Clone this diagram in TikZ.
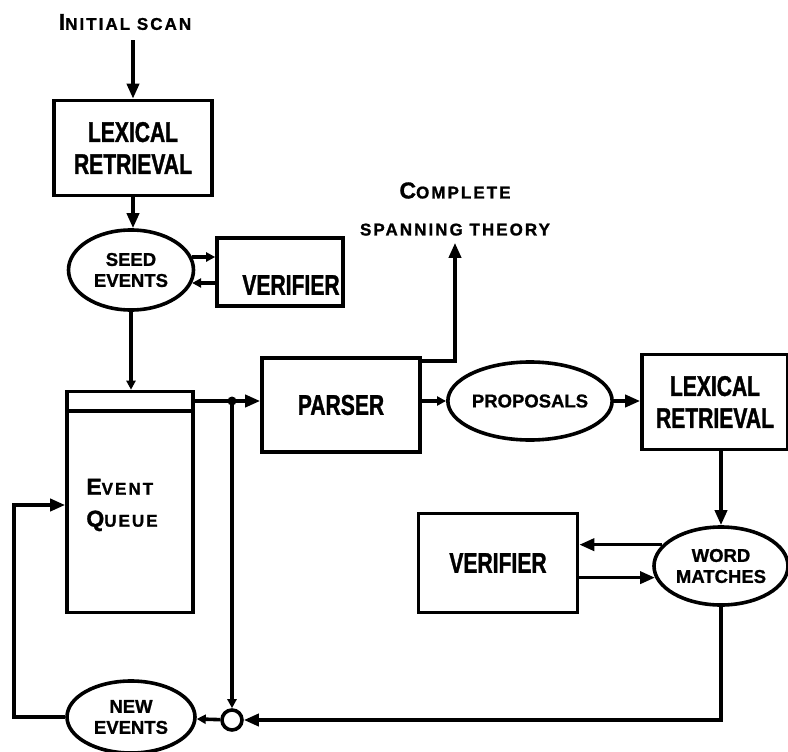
\documentclass[tikz,border=0pt]{standalone}
\usepackage{fontspec}
\setmainfont{Liberation Sans}
\newfontfamily\narrowfont[FakeStretch=0.74, BoldFeatures={FakeBold=1.2}]{Liberation Sans}
\newfontfamily\ovalfont[BoldFeatures={FakeBold=1}]{Liberation Sans}
\newfontfamily\widefont[LetterSpace=12, BoldFeatures={FakeBold=1.2}]{Liberation Sans}
\usepackage{tikz}
\usetikzlibrary{positioning,calc,arrows.meta,shapes.geometric}

\newcommand\capfirst[2]{{\fontsize{23}{23}\selectfont #1}{\fontsize{17}{18}\selectfont #2}}

\begin{document}
\begin{tikzpicture}[
    x=1pt, y=-1pt,
    box/.style={draw, line width=3.6pt, inner sep=0pt, align=center, font=\narrowfont\bfseries\fontsize{28.5}{32}\selectfont},
    oval/.style={draw, ellipse, line width=3.6pt, inner sep=0pt, align=center, font=\ovalfont\bfseries\fontsize{18.5}{21}\selectfont},
    lab/.style={inner sep=0pt, align=center, font=\widefont\bfseries\fontsize{17}{32}\selectfont},
    arrow/.style={line width=3.6pt, -{Triangle[length=15pt,width=12pt]}},
    tip/.style={line width=3.6pt, -{Triangle[length=9pt,width=9pt]}},
]
\useasboundingbox (0,0) rectangle (788,752);

% Left column
\node[lab] (scan) at (125,22) {\capfirst{I}{NITIAL SCAN}};
\node[box, minimum width=158pt, minimum height=95pt] (lex1) at (133,148) {LEXICAL\\RETRIEVAL};
\node[oval, minimum width=125pt, minimum height=80pt] (seed) at (131,270) {SEED\\EVENTS};
\node[box, minimum width=126pt, minimum height=68pt] (ver1) at (280,272) {};
\node[box, draw=none] (ver1txt) at (291,285) {VERIFIER};
\node[box, minimum width=126pt, minimum height=221pt] (queue) at (130,502) {};
\node[lab, align=left] (qtxt) at (122,505) {\capfirst{E}{VENT}\\\capfirst{Q}{UEUE}};
\draw[line width=3.6pt] ([yshift=-21pt]queue.north west) -- ([yshift=-21pt]queue.north east);
\node[oval, minimum width=128pt, minimum height=72pt] (newev) at (131,717) {NEW\\EVENTS};
\node[draw, circle, line width=3.6pt, minimum size=20pt, inner sep=0pt] (mix) at (232,720) {};
\coordinate (jn) at (232,401);

% Middle and right
\node[box, minimum width=158pt, minimum height=94pt] (parser) at (341,405) {PARSER};
\node[lab, font=\widefont\bfseries\fontsize{17}{37}\selectfont] (theory) at (455,209) {\capfirst{C}{OMPLETE}\\SPANNING THEORY};
\node[oval, minimum width=136pt, minimum height=78pt] (prop) at (530,401) {PROPOSALS};
\node[box, minimum width=146pt, minimum height=95pt] (lex2) at (715,402) {LEXICAL\\RETRIEVAL};
\node[oval, minimum width=134pt, minimum height=78pt] (words) at (721,566) {WORD\\MATCHES};
\node[box, minimum width=159pt, minimum height=99pt] (ver2) at (498,563) {VERIFIER};

% Connectors
\draw[arrow, shorten <=10pt] (scan.south -| lex1.north) -- (lex1.north);
\draw[arrow] (lex1.south) -- (lex1.south |- seed.north);
\draw[tip] (seed.12) -- (seed.12 -| ver1.west);
\draw[tip] (ver1.west |- seed.-12) -- (seed.-12);
\draw[tip] (seed.south) -- (seed.south |- queue.north);
\draw[line width=3.6pt] (queue.east |- jn) -- (jn);
\draw[arrow] (jn) -- (jn -| parser.west);
\fill (jn) circle (4.5pt);
\draw[tip] (jn) -- (mix);
\draw[arrow, shorten >=7pt] ([yshift=-5pt]parser.north east) -| (theory.south);
\draw[tip] (parser.east |- prop) -- (prop);
\draw[arrow] (prop.east) -- (prop.east -| lex2.west);
\draw[arrow] (lex2.south -| words.north) -- (words.north);
\draw[arrow] (words.160) -- (words.160 -| ver2.east);
\draw[arrow] (ver2.east |- words.190) -- (words.190);
\draw[arrow] (words.south) |- (mix);
\draw[tip] (mix) -- (newev);
\draw[arrow] (newev.west) -- ++(-51,0) |- ([yshift=-3pt]queue.west);
\end{tikzpicture}
\end{document}
